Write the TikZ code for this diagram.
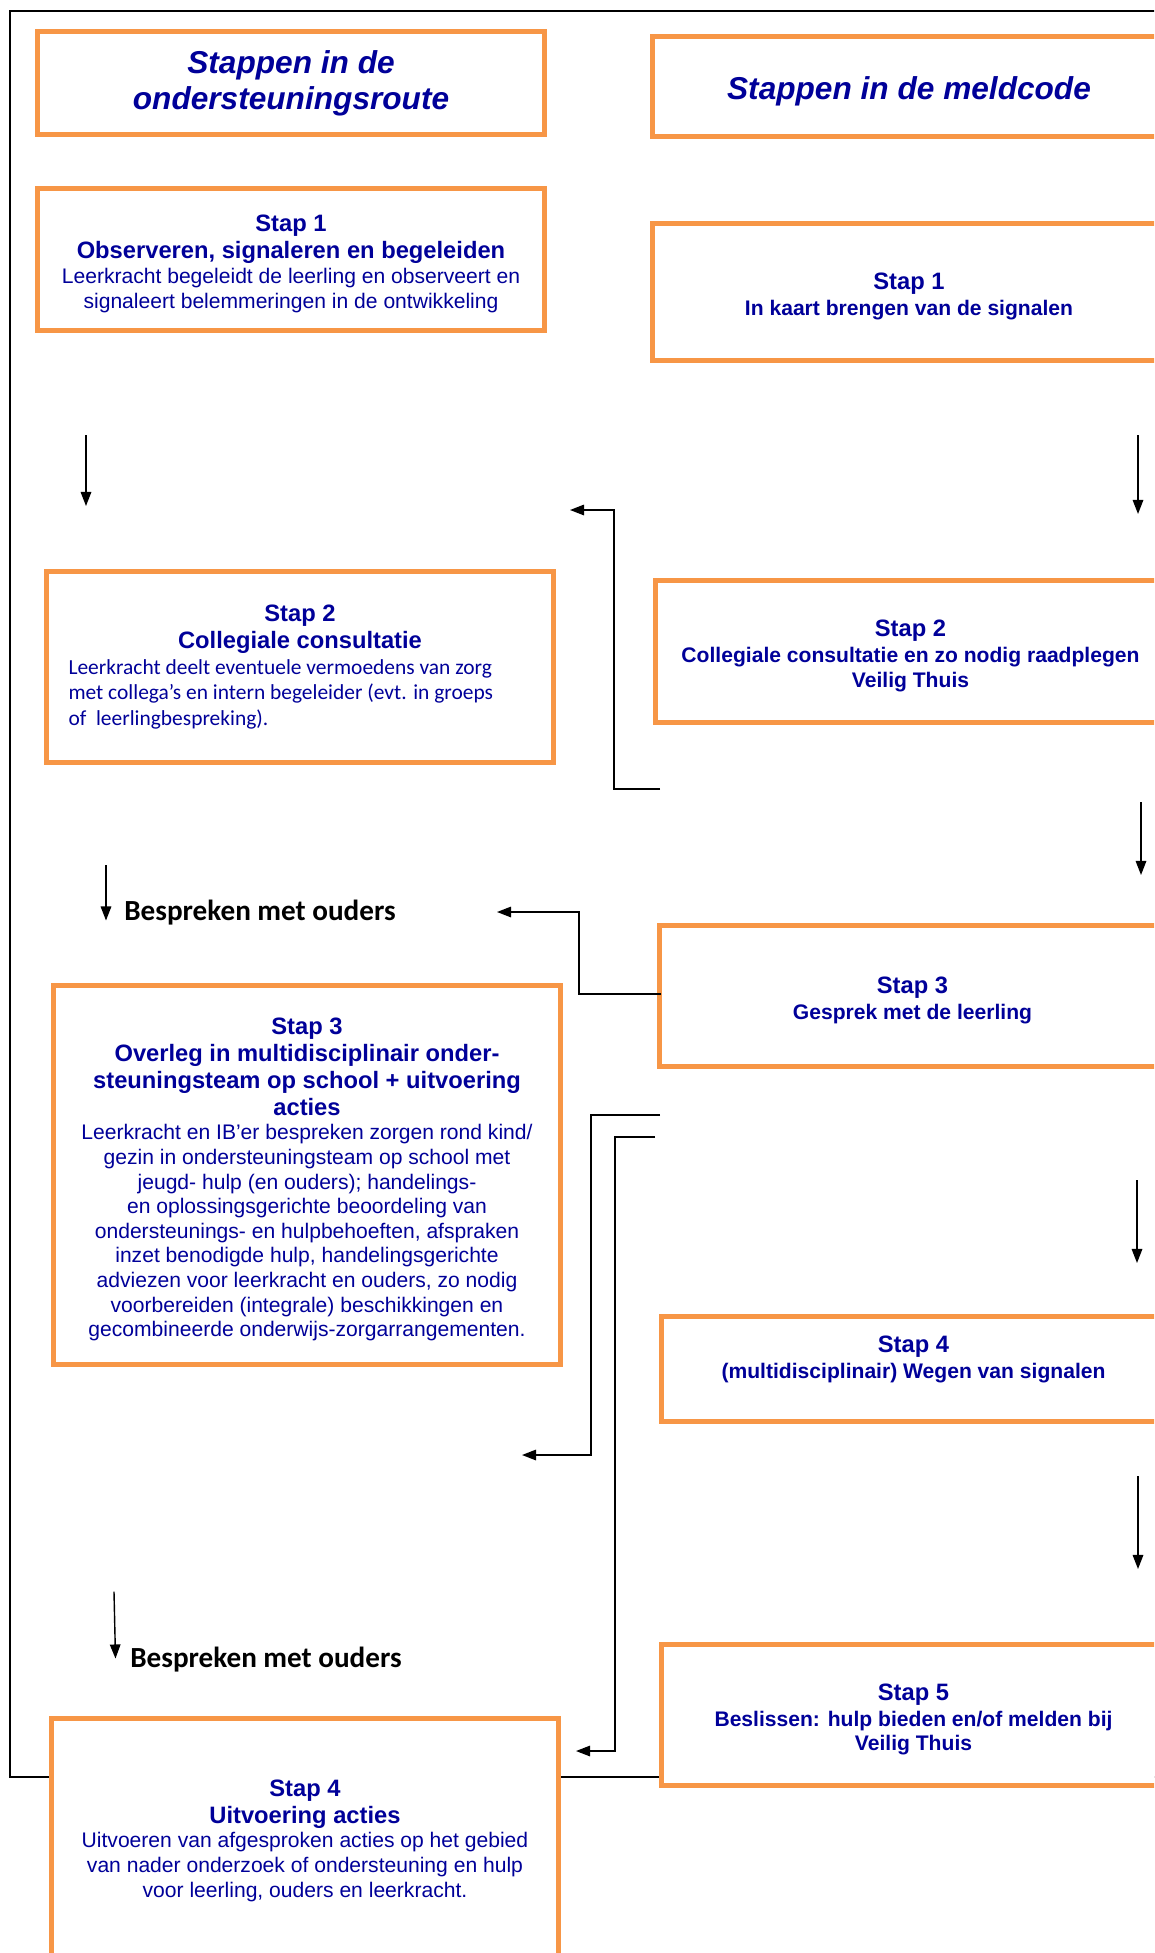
\documentclass[tikz,border=0pt]{standalone}
\usepackage{fontspec}
\setmainfont{Liberation Sans}
\newfontfamily\calibri{Carlito}
\usetikzlibrary{arrows.meta}
\definecolor{staporanje}{HTML}{F79646}
\definecolor{stapblauw}{HTML}{000099}
\newcommand{\stapvet}{\fontsize{13.5}{15.4}\selectfont\bfseries}
\newcommand{\subvet}{\fontsize{12}{14}\selectfont\bfseries}
\newcommand{\bovenrand}{\rule{0pt}{14.4pt}}

\begin{document}
\begin{tikzpicture}[x=0.02cm,y=-0.02cm,>={Triangle[length=8pt,width=6pt]},
  stap box/.style={draw=staporanje,line width=2.8pt,fill=white,align=center,text=stapblauw,inner sep=0pt,font=\fontsize{12}{14}\selectfont},
  kop box/.style={stap box,font=\fontsize{18}{20.5}\selectfont\bfseries\itshape},
  pijl/.style={->,line width=0.8pt},
  ouder tekst/.style={anchor=west,inner sep=0pt,font=\calibri\fontsize{16.6}{19}\selectfont\bfseries}]
  \useasboundingbox (0,0) rectangle (1154,1953);
  \clip (0,0) rectangle (1154,1953);
  \draw[line width=1.1pt] (10,11) rectangle (1250,1777);

  % koppen
  \node[kop box,minimum width=10.14cm,minimum height=2.06cm] (kopL) at (291,83) {Stappen in de\\ondersteuningsroute};
  \node[kop box,minimum width=10.26cm,minimum height=2cm] (kopR) at (909,86.5) {\rule{0pt}{19pt}Stappen in de meldcode};

  % ondersteuningsroute
  \node[stap box,minimum width=10.14cm,minimum height=2.84cm] (route1) at (291,259.5)
    {\bovenrand{\stapvet Stap 1}\\[1.4pt]{\stapvet Observeren, signaleren en begeleiden}\\[0.5pt]Leerkracht begeleidt de leerling en observeert en\\signaleert belemmeringen in de ontwikkeling};
  \node[stap box,minimum width=10.14cm,minimum height=3.82cm] (route2) at (300,667)
    {{\stapvet Stap 2}\\[1.4pt]{\stapvet Collegiale consultatie}\\[0.5pt]
     \begin{minipage}[t]{9.26cm}\calibri\fontsize{12.2}{14.5}\selectfont
     Leerkracht deelt eventuele vermoedens van zorg\\met collega’s en intern begeleider (evt. in groeps\\of\ \ leerlingbespreking).\end{minipage}};
  \node[stap box,minimum width=10.13cm,minimum height=7.59cm] (route3) at (307,1175)
    {\bovenrand{\stapvet Stap 3}\\[1.4pt]{\stapvet Overleg in multidisciplinair onder-}\\[1.4pt]{\stapvet steuningsteam op school + uitvoering}\\[1.4pt]{\stapvet acties}\\
     Leerkracht en IB’er bespreken zorgen rond kind/\\gezin in ondersteuningsteam op school met\\jeugd- hulp (en ouders); handelings-\\en oplossingsgerichte beoordeling van\\ondersteunings- en hulpbehoeften, afspraken\\inzet benodigde hulp, handelingsgerichte\\adviezen voor leerkracht en ouders, zo nodig\\voorbereiden (integrale) beschikkingen en\\gecombineerde onderwijs-zorgarrangementen.};
  \node[stap box,minimum width=10.14cm,minimum height=4.88cm] (route4) at (305,1840.5)
    {{\stapvet Stap 4}\\[1.4pt]{\stapvet Uitvoering acties}\\Uitvoeren van afgesproken acties op het gebied\\van nader onderzoek of ondersteuning en hulp\\voor leerling, ouders en leerkracht.};

  % meldcode
  \node[stap box,minimum width=10.26cm,minimum height=2.74cm] (meld1) at (909,292)
    {\bovenrand{\stapvet Stap 1}\\[0.8pt]{\subvet In kaart brengen van de signalen}};
  \node[stap box,minimum width=10.2cm,minimum height=2.84cm] (meld2) at (910.5,651.5)
    {\bovenrand{\stapvet Stap 2}\\[0.8pt]{\subvet Collegiale consultatie en zo nodig raadplegen}\\{\subvet Veilig Thuis}};
  \node[stap box,minimum width=10.12cm,minimum height=2.82cm] (meld3) at (912.5,996)
    {\bovenrand{\stapvet Stap 3}\\[0.8pt]{\subvet Gesprek met de leerling}};
  \node[stap box,minimum width=10.08cm,minimum height=2.1cm] (meld4) at (913.5,1369)
    {\bovenrand{\stapvet Stap 4}\\[0.8pt]{\subvet (multidisciplinair) Wegen van signalen}\\\strut};
  \node[stap box,minimum width=10.08cm,minimum height=2.82cm] (meld5) at (913.5,1715)
    {\bovenrand{\stapvet Stap 5}\\[0.8pt]{\subvet Beslissen: hulp bieden en/of melden bij}\\{\subvet Veilig Thuis}};

  % uiteinden van de pijlen
  \coordinate (r1a) at (86,435);     \coordinate (r1b) at (86,506);
  \coordinate (r2a) at (106,865);    \coordinate (r2b) at (106,920.5);
  \coordinate (r3a) at (114,1591.5); \coordinate (r3b) at (115.5,1658.5);
  \coordinate (m1a) at (1138,435);   \coordinate (m1b) at (1138,514);
  \coordinate (m2a) at (1141,802);   \coordinate (m2b) at (1141,875);
  \coordinate (m3a) at (1137,1180);  \coordinate (m3b) at (1137,1263);
  \coordinate (m4a) at (1138,1476);  \coordinate (m4b) at (1138,1569);
  \coordinate (h1a) at (660,789);    \coordinate (h1b) at (570,510);
  \coordinate (h2a) at (661,994);    \coordinate (h2b) at (497,912);
  \coordinate (h3a) at (660,1115);   \coordinate (h3b) at (522,1455);
  \coordinate (h4a) at (655,1137);   \coordinate (h4b) at (576,1751);

  \node[ouder tekst] (ouders1) at (124,913) {Bespreken met ouders};
  \node[ouder tekst] (ouders2) at (130,1660) {Bespreken met ouders};

  \draw[pijl] (r1a) -- (r1b);
  \draw[pijl] (r2a) -- (r2b);
  \draw[pijl] (r3a) -- (r3b);
  \draw[pijl] (m1a) -- (m1b);
  \draw[pijl] (m2a) -- (m2b);
  \draw[pijl] (m3a) -- (m3b);
  \draw[pijl] (m4a) -- (m4b);

  \draw[pijl] (h1a) -- ++(-46,0) |- (h1b);
  \draw[pijl] (h2a) -- ++(-82,0) |- (h2b);
  \draw[pijl] (h3a) -- ++(-69,0) |- (h3b);
  \draw[pijl] (h4a) -- ++(-40,0) |- (h4b);
\end{tikzpicture}
\end{document}
